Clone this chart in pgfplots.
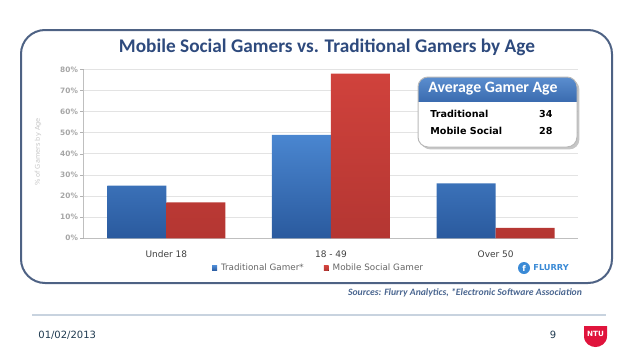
\documentclass[border=0pt]{standalone}
\usepackage{pgfplots}
\pgfplotsset{compat=1.18}
\usepackage{fontspec}
\setmainfont{Carlito}
\newfontfamily\dv{DejaVu Sans}
\usetikzlibrary{shadows}
\definecolor{titleblue}{HTML}{2E4A7D}
\definecolor{framec}{HTML}{4E6284}
\definecolor{bblueT}{HTML}{4A86D0}
\definecolor{bblueB}{HTML}{2A5A9E}
\definecolor{bredT}{HTML}{D0423C}
\definecolor{bredB}{HTML}{B43632}
\definecolor{hblueT}{HTML}{5B8ECF}
\definecolor{hblueB}{HTML}{3B6CB0}
\definecolor{srcc}{HTML}{4A6690}
\definecolor{ntured}{HTML}{E0143C}
\definecolor{linec}{HTML}{C8D3DF}
\definecolor{datec}{HTML}{1F3A50}
\definecolor{flurryc}{HTML}{3A8AD6}
\begin{document}
\begin{tikzpicture}
\begin{scope}[x=0.5pt,y=-0.5pt]
\useasboundingbox (0,0) rectangle (638,359);
% frame
\draw[framec, line width=1pt, rounded corners=12pt] (21,30) rectangle (612,283);
\node[text=titleblue, font=\fontsize{9.65}{11}\selectfont\bfseries] at (327,47) {Mobile Social Gamers vs. Traditional Gamers by Age};
\node[rotate=90, text=gray!45, font=\dv\fontsize{3.3}{4}\selectfont] at (38,152) {\% of Gamers by Age};
\end{scope}
\begin{axis}[
  at={(42pt,-119.15pt)}, anchor=south west, scale only axis,
  width=247pt, height=84.4pt,
  ymin=0, ymax=80, xmin=-0.5, xmax=2.5,
  ytick={0,10,...,80},
  yticklabels={0\%,10\%,20\%,30\%,40\%,50\%,60\%,70\%,80\%},
  yticklabel style={font=\dv\bfseries\fontsize{3.7}{4}\selectfont, text=gray!70, xshift=2.5pt},
  ymajorgrids, grid style={gray!22, line width=0.5pt},
  axis x line*=bottom, axis y line*=left,
  axis line style={gray!50, line width=0.5pt},
  xtick={0,1,2}, xticklabels={Under 18, 18 - 49, Over 50},
  xticklabel style={font=\dv\fontsize{4.5}{5}\selectfont, text=black!75, yshift=-2.5pt},
  major x tick style={draw=none},
  extra x ticks={0.5,1.5}, extra x tick labels={},
  extra x tick style={major tick style={draw=gray!60, line width=0.4pt}, tick align=outside, major tick length=2.5pt},
  major y tick style={draw=gray!60, line width=0.4pt}, ytick align=outside, major tick length=2pt,
  legend style={at={(axis description cs:0.477,-0.178)}, anchor=center, draw=none, fill=none,
    legend columns=2, font=\dv\fontsize{4.4}{5}\selectfont, text=black!60,
    /tikz/every even column/.append style={column sep=8pt}, inner sep=0pt},
  legend image code/.code={\fill[#1] (0pt,-1.2pt) rectangle (2.4pt,1.2pt);},
  clip=false,
]
\addplot[ybar, bar width=29.5pt, bar shift=-14.75pt, draw=none, top color=bblueT, bottom color=bblueB] coordinates {(0,25) (1,49) (2,26)};
\addlegendentry{Traditional Gamer*}
\addplot[ybar, bar width=29.5pt, bar shift=14.75pt, draw=none, top color=bredT, bottom color=bredB] coordinates {(0,17) (1,78) (2,5)};
\addlegendentry{Mobile Social Gamer}
\end{axis}
\begin{scope}[x=0.5pt,y=-0.5pt]
% inset box
\fill[white, drop shadow={shadow xshift=1.2pt, shadow yshift=-1.2pt, opacity=0.45}, rounded corners=5pt] (418,77) rectangle (577,147);
\begin{scope}
\clip[rounded corners=5pt] (418,77) rectangle (577,147);
\shade[top color=hblueT, bottom color=hblueB] (418,77) rectangle (577,101);
\end{scope}
\draw[gray!55, line width=0.5pt, rounded corners=5pt] (418,77) rectangle (577,147);
\node[text=white, font=\fontsize{7.9}{8}\selectfont\bfseries] at (493,89) {Average Gamer Age};
\node[anchor=west, font=\dv\bfseries\fontsize{4.8}{5}\selectfont, inner sep=0pt] at (430,114) {Traditional};
\node[anchor=west, font=\dv\bfseries\fontsize{4.8}{5}\selectfont, inner sep=0pt] at (430,131) {Mobile Social};
\node[anchor=east, font=\dv\bfseries\fontsize{4.8}{5}\selectfont, inner sep=0pt] at (553,114) {34};
\node[anchor=east, font=\dv\bfseries\fontsize{4.8}{5}\selectfont, inner sep=0pt] at (553,131) {28};
% flurry
\fill[flurryc] (524,268) circle (6);
\node[text=white, font=\dv\bfseries\fontsize{4}{4}\selectfont, inner sep=0pt] at (524,268) {f};
\node[anchor=west, text=flurryc, font=\dv\bfseries\fontsize{4.1}{5}\selectfont, inner sep=0pt] at (533,268) {FLURRY};
% sources
\node[text=srcc, font=\fontsize{4.85}{6}\selectfont\bfseries\itshape] at (465,293) {Sources: Flurry Analytics, *Electronic Software Association};
% footer
\draw[linec, line width=0.8pt] (32,315) -- (606,315);
\node[anchor=west, text=datec, font=\dv\fontsize{5}{6}\selectfont, inner sep=0pt] at (38,335) {01/02/2013};
\node[text=datec, font=\dv\fontsize{5}{6}\selectfont, inner sep=0pt] at (553,335) {9};
\fill[ntured] (584,326) -- (607,326) -- (607,336) .. controls (607,344) and (600,347) .. (595.5,347) .. controls (591,347) and (584,344) .. (584,336) -- cycle;
\node[text=white, font=\dv\bfseries\fontsize{3.6}{4}\selectfont, inner sep=0pt] at (595.5,334) {NTU};
\end{scope}
\end{tikzpicture}
\end{document}
